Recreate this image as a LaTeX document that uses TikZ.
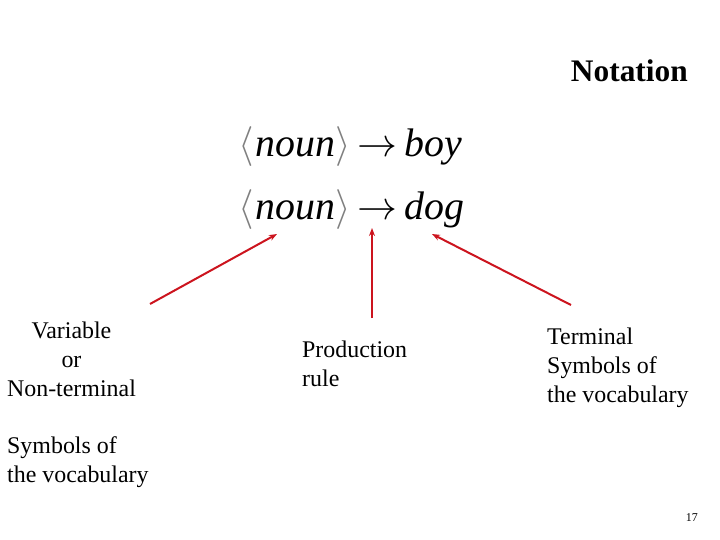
\RequirePackage{fix-cm}
\documentclass[tikz,border=0pt]{standalone}
\usepackage{fontspec}
\setmainfont{Liberation Serif}
\usetikzlibrary{arrows.meta}
\definecolor{arrowred}{RGB}{204,20,30}

\begin{document}
\begin{tikzpicture}[x=1bp, y=-1bp,
    labeltext/.style={font=\fontsize{24}{28.8}\selectfont, inner sep=0pt},
    formula/.style={font=\fontsize{40}{48}\selectfont, inner sep=0pt, anchor=base west},
    pointer/.style={draw=arrowred, line width=2bp, -{Stealth[length=8bp, width=6bp]}}]
  \useasboundingbox (0,0) rectangle (720,540);

  % Title and page number
  \node[font=\fontsize{31.5}{36}\selectfont\bfseries, inner sep=0pt, anchor=base east]
    (title) at (688,82) {Notation};
  \node[font=\fontsize{12}{14}\selectfont, inner sep=0pt, anchor=base east]
    (pagenum) at (698,521) {17};

  % The two production rules
  \node[formula] (boyrule) at (238,157)
    {${\color{gray}\langle}\mkern1mu\textit{noun}{\color{gray}\rangle}\mkern3mu\mathord{\rightarrow}\mkern3mu\textit{boy}$};
  \node[formula] (dogrule) at (238,220)
    {${\color{gray}\langle}\mkern1mu\textit{noun}{\color{gray}\rangle}\mkern3mu\mathord{\rightarrow}\mkern3mu\textit{dog}$};

  % The labels below (base is the last line)
  \node[labeltext, align=center, anchor=base] (variable) at (71.5,396)
    {Variable\\or\\Non-terminal};
  \node[labeltext, align=left, anchor=base west] (symbols) at (7,482)
    {Symbols of\\the vocabulary};
  \node[labeltext, align=left, anchor=base west] (production) at (302,386)
    {Production\\rule};
  \node[labeltext, align=left, anchor=base west] (terminal) at (547,402)
    {Terminal\\Symbols of\\the vocabulary};

  % Arrows from the labels to the rule
  \coordinate (varTail) at (150,304);
  \coordinate (varHead) at (277,234);
  \coordinate (prodTail) at (372,318);
  \coordinate (prodHead) at (372,228);
  \coordinate (termTail) at (571,305);
  \coordinate (termHead) at (432,234);
  \draw[pointer] (varTail) -- (varHead);
  \draw[pointer] (prodTail) -- (prodHead);
  \draw[pointer] (termTail) -- (termHead);
\end{tikzpicture}
\end{document}
